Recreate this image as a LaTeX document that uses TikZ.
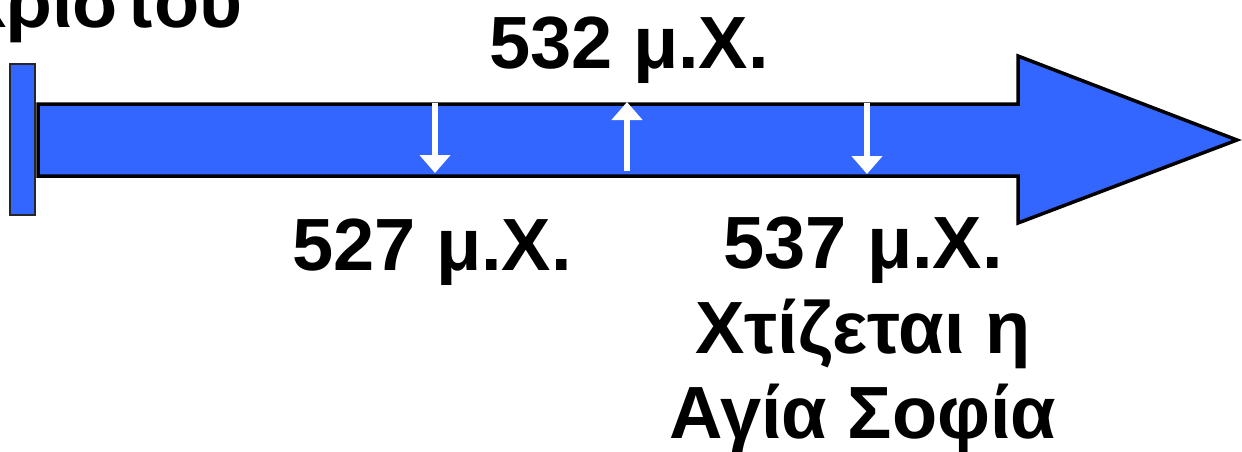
\documentclass[tikz,border=0pt]{standalone}
\usepackage{fontspec}
\setmainfont{Liberation Sans}
\usetikzlibrary{arrows.meta}
\definecolor{tlblue}{RGB}{51,102,255}
\tikzset{
  lbl/.style={font=\fontsize{74}{85}\selectfont\bfseries, inner sep=0pt, anchor=base},
  whitearrow/.style={draw=white, line width=6pt, -{Triangle[width=30pt,length=18pt]}},
}
\begin{document}
\begin{tikzpicture}[x=1pt,y=-1pt]
\useasboundingbox (0,0) rectangle (1242,452);
% main arrow
\path[fill=tlblue, draw=black, line width=3.5pt, line join=miter]
  (38,104) -- (1018,104) -- (1018,56) -- (1237,140) -- (1018,223) -- (1018,176) -- (38,176) -- cycle;
% start bar
\path[fill=tlblue, draw=black!85, line width=1.5pt] (10,64) rectangle (35,215);
% white markers
\coordinate (a1s) at (435,103); \coordinate (a1e) at (435,173);
\coordinate (a2s) at (627,171); \coordinate (a2e) at (627,102);
\coordinate (a3s) at (867,103); \coordinate (a3e) at (867,174);
\draw[whitearrow] (a1s) -- (a1e);
\draw[whitearrow] (a2s) -- (a2e);
\draw[whitearrow] (a3s) -- (a3e);
% labels
\node[lbl, anchor=base east] (start) at (243,28) {Χριστού};
\node[lbl] (y532) at (629,68) {532 μ.Χ.};
\node[lbl] (y527) at (432,270) {527 μ.Χ.};
\node[lbl] (y537) at (863,268) {537 μ.Χ.};
\node[lbl] (y537b) at (863,353) {Χτίζεται η};
\node[lbl] (y537c) at (863,438) {Αγία Σοφία};
\end{tikzpicture}
\end{document}
